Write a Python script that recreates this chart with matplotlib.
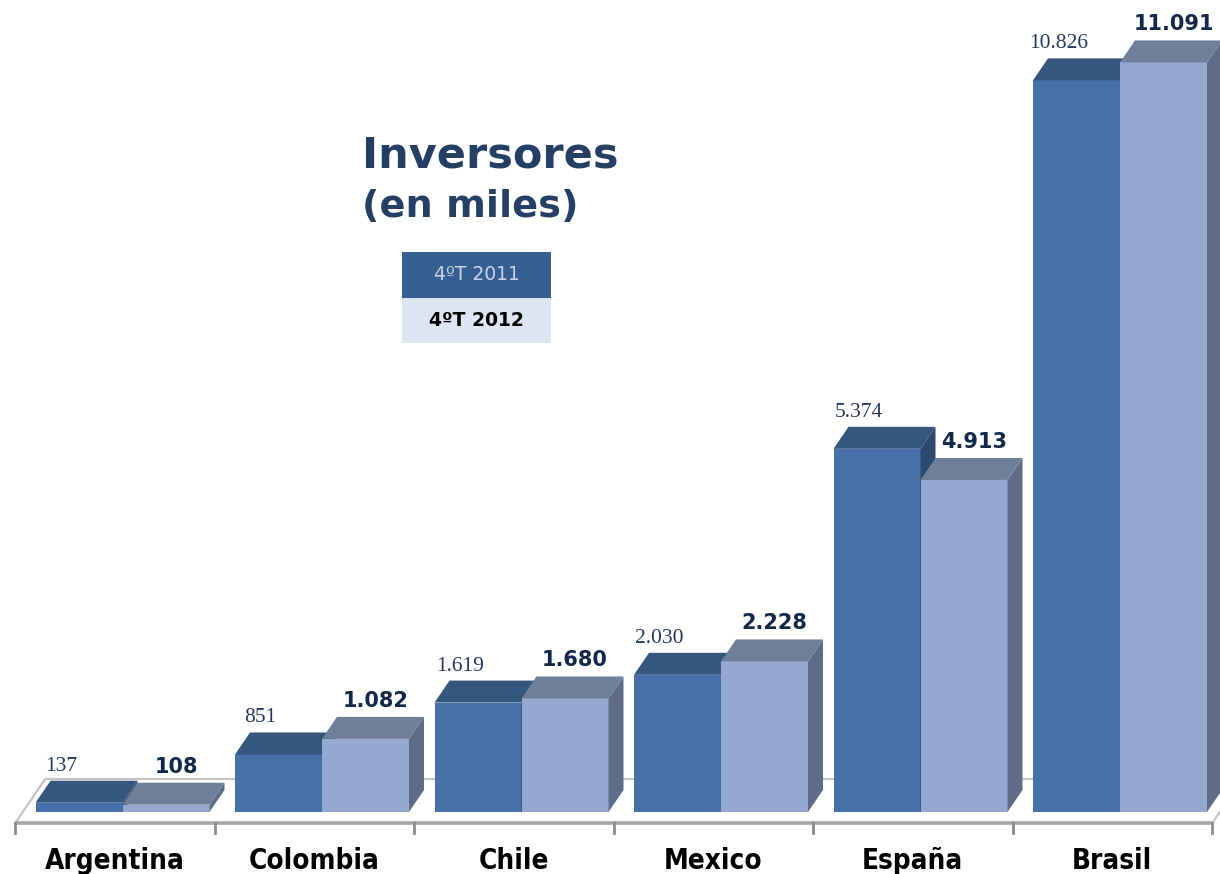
import matplotlib.pyplot as plt
from matplotlib.patches import Polygon, Rectangle

# Investors per country, thousands
categories = ["Argentina", "Colombia", "Chile", "Mexico", "España", "Brasil"]
q4_2011 = [137, 851, 1619, 2030, 5374, 10826]
q4_2012 = [108, 1082, 1680, 2228, 4913, 11091]
series_names = ["4ºT 2011", "4ºT 2012"]

# front / top / side shades of each series
C11 = ("#4571A8", "#35577D", "#2C4A6E")
C12 = ("#95A9D0", "#707F99", "#5F6C87")
TITLE_C = "#243F63"


def fmt(v):
    return f"{v:,}".replace(",", ".")


W, H, DPI = 1220, 874, 100
fig = plt.figure(figsize=(W / DPI, H / DPI), dpi=DPI)
fig.patch.set_facecolor("white")

AX_W, AX_H = 1197, 811
YMAX = 12000
ax = fig.add_axes([22.75 / W, 62 / H, AX_W / W, AX_H / H])
ax.set_xlim(-0.5, len(categories) - 0.5)
ax.set_ylim(0, YMAX)
ax.axis("off")

# pixel -> data helpers (for the oblique depth of the bars)
px_x = AX_W / len(categories)
px_y = AX_H / YMAX


def ux(p):
    return p / px_x


def uy(p):
    return p / px_y


DEPTH_X, DEPTH_Y = 15, 22
BAR_W = 87 / px_x
n = len(categories)

# floor slab
fx0, fx1 = -0.5 + ux(-7.5), n - 0.5 + ux(-7.5)
floor = Polygon([(fx0, uy(-11)), (fx1, uy(-11)),
                 (fx1 + ux(30), uy(33)), (fx0 + ux(30), uy(33))],
                closed=True, facecolor="white", edgecolor="#C4C4C4",
                lw=1.6, zorder=0, clip_on=False)
ax.add_patch(floor)
ax.plot([fx0, fx1], [uy(-11), uy(-11)], color="#A6A6A6", lw=2.6,
        zorder=1, clip_on=False, solid_capstyle="butt")
for k in range(n + 1):
    xk = -0.5 + k + ux(-7.5)
    ax.plot([xk, xk], [uy(-11), uy(-21)], color="#8C8C8C", lw=2,
            zorder=1, clip_on=False)


def draw_bar(x0, v, cols, z):
    front, top, side = cols
    x1 = x0 + BAR_W
    ax.bar(x0, v, width=BAR_W, align="edge", color=front, zorder=z,
           edgecolor="none")
    ax.add_patch(Polygon([(x1, 0), (x1 + ux(DEPTH_X), uy(DEPTH_Y)),
                          (x1 + ux(DEPTH_X), v + uy(DEPTH_Y)), (x1, v)],
                         closed=True, facecolor=side, edgecolor="none",
                         zorder=z, clip_on=False))
    ax.add_patch(Polygon([(x0, v), (x1, v),
                          (x1 + ux(DEPTH_X), v + uy(DEPTH_Y)),
                          (x0 + ux(DEPTH_X), v + uy(DEPTH_Y))],
                         closed=True, facecolor=top, edgecolor="none",
                         zorder=z, clip_on=False))


for i, (a, b) in enumerate(zip(q4_2011, q4_2012)):
    draw_bar(i - BAR_W, a, C11, 2 + 2 * i)
    draw_bar(i, b, C12, 3 + 2 * i)

    ax.annotate(fmt(a), xy=(i - BAR_W / 2, a + uy(DEPTH_Y)),
                xytext=(-18, 5), textcoords="offset pixels",
                ha="center", va="bottom", fontsize=15.5,
                family="Liberation Serif", color="#22385C", zorder=30)
    ax.annotate(fmt(b), xy=(i + BAR_W / 2, b + uy(DEPTH_Y)),
                xytext=(10, 6), textcoords="offset pixels",
                ha="center", va="bottom", fontsize=15, weight="bold",
                family="DejaVu Sans", color="#12284A", zorder=30)

    ax.annotate(categories[i], xy=(i, 0), xytext=(-8, -57),
                textcoords="offset pixels", ha="center", va="baseline",
                fontsize=20, weight="heavy", fontstretch="condensed",
                family="DejaVu Sans", color="black", annotation_clip=False)

# title
fig.text(362 / W, 1 - 167 / H, "Inversores", fontsize=31, weight="bold",
         color=TITLE_C, va="baseline", ha="left")
fig.text(362 / W, 1 - 217 / H, "(en miles)", fontsize=27.5, weight="bold",
         color=TITLE_C, va="baseline", ha="left")

# legend boxes
fig.add_artist(Rectangle((402 / W, 1 - 298 / H), 149 / W, 46 / H,
                         transform=fig.transFigure, facecolor="#365F91",
                         edgecolor="none"))
fig.add_artist(Rectangle((402 / W, 1 - 343 / H), 149 / W, 45 / H,
                         transform=fig.transFigure, facecolor="#DCE6F2",
                         edgecolor="none"))
fig.text(476.5 / W, 1 - 275 / H, series_names[0], fontsize=13.5,
         color="#C8D4E6", ha="center", va="center")
fig.text(476.5 / W, 1 - 321 / H, series_names[1], fontsize=13.5,
         weight="bold", color="black", ha="center", va="center")

fig.savefig("out.png", dpi=DPI)
